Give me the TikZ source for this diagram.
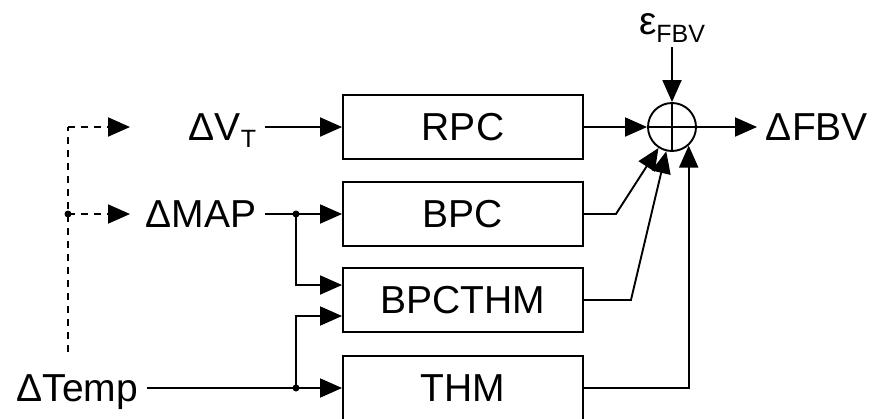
\documentclass[tikz,border=0pt]{standalone}
\usepackage{fontspec}
\setmainfont{Liberation Sans}
\usetikzlibrary{arrows.meta,calc}
% lowered, smaller index text (optional argument: drop in pt)
\newcommand\lowsub[2][7]{\raisebox{-#1pt}{\fontsize{25}{25}\selectfont #2}}

\begin{document}
\begin{tikzpicture}[x=1pt,y=-1pt, line width=1.9pt,
  every node/.style={font=\fontsize{39}{45}\selectfont},
  blockbox/.style={draw, minimum width=240pt, minimum height=64pt, inner sep=0pt},
  lbl/.style={inner xsep=8pt, inner ysep=0pt, text height=27.6pt, text depth=0pt},
  arr/.style={-{Triangle[length=22pt,width=19pt]}},
  dsh/.style={dash pattern=on 7pt off 6pt},
  junct/.style={circle, fill, inner sep=0pt, minimum size=7pt},
  sumnode/.style={circle, draw, minimum size=48pt, inner sep=0pt}]

\useasboundingbox (0,0) rectangle (877,418);

% model blocks
\node[blockbox] (rpc)    at (463,127) {RPC};
\node[blockbox] (bpc)    at (463,214) {BPC};
\node[blockbox] (bpcthm) at (463,300) {BPCTHM};
\node[blockbox] (thm)    at (463,388) {THM};

% summing junction
\node[sumnode] (sum) at (672,127) {};
\draw (sum.north) -- (sum.south) (sum.west) -- (sum.east);

% signal labels
\node[lbl, anchor=east] (vt)   at (265,127) {ΔV\lowsub{T}};
\node[lbl, anchor=east] (map)  at (265,214) {ΔMAP};
\node[lbl, anchor=east] (temp) at (147,388) {ΔTemp};
\node[lbl, anchor=west] (fbv)  at (757,127) {ΔFBV};
\node[inner sep=0pt, text height=27.6pt, text depth=12pt, anchor=south] (eps) at (672,47) {ε\lowsub[8]{FBV}};

% branch points
\node[junct] (jm) at (296,214) {};
\node[junct] (jt) at (296,388) {};
\node[junct] (jd) at (68,214) {};

% inputs to the blocks
\draw[arr] (vt.east) -- (rpc.west);
\draw[arr] (map.east) -- (bpc.west);
\draw[arr] (jm.center) |- ($(bpcthm.west)+(0,-15)$);
\draw[arr] (temp.east) -- (thm.west);
\draw[arr] (jt.center) |- ($(bpcthm.west)+(0,16)$);

% block outputs into the sum
\draw[arr] (rpc.east) -- (sum.west);
\draw[arr] (bpc.east) -- ++(32,0) -- (sum);
\draw[arr] (bpcthm.east) -- ++(47,0) -- (sum);
\draw[arr] (thm.east) -| (sum.-48);
\draw[arr] (eps) -- (sum);
\draw[arr] (sum) -- (fbv.west);

% dashed temperature influence
\coordinate (dtop) at (68,127);
\coordinate (dbot) at (68,352);
\coordinate (tipv) at (130,127);
\coordinate (tipm) at (130,214);
\draw[dsh] (dbot) -- (dtop);
\draw[dsh, arr] (dtop) -- (tipv);
\draw[dsh, arr] (jd.center) -- (tipm);
\end{tikzpicture}
\end{document}
